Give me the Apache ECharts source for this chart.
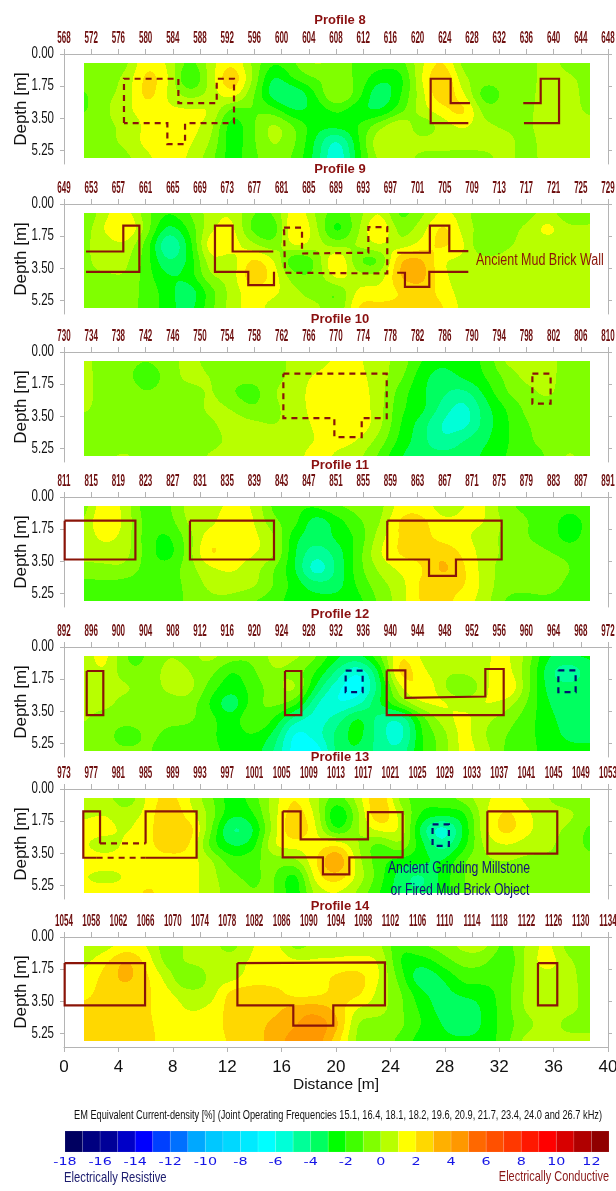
<!DOCTYPE html>
<html><head><meta charset="utf-8">
<style>html,body{margin:0;padding:0;background:#fff}#c{width:616px;height:1191px}</style>
<script src="https://cdn.jsdelivr.net/npm/echarts@6/dist/echarts.min.js"></script>
</head><body><div id="c"></div>
<script>
const NARROW = '"Liberation Sans Narrow","Liberation Sans",sans-serif';
const SANS = '"Liberation Sans",sans-serif';
const profileNames = ['Profile 8','Profile 9','Profile 10','Profile 11','Profile 12','Profile 13','Profile 14'];
const stationStarts = [568,649,730,811,892,973,1054];
const depthTickValues = [0,1.75,3.5,5.25];
const distNodes = [1.47,3.02,4.57,6.12,7.67,9.22,10.77,12.32,13.87,15.42,16.97,18.52,20.07,21.62,23.17,24.72,26.27,27.82,29.37,30.92,32.47,34.02,35.57,37.12,38.67];
const depthNodes = [0.49,1.35,2.21,3.07,3.93,4.79,5.65];
const scaleValues = [-18,-17,-16,-15,-14,-13,-12,-11,-10,-9,-8,-7,-6,-5,-4,-3,-2,-1,0,1,2,3,4,5,6,7,8,9,10,11,12];
const scaleLabels = [-18,-16,-14,-12,-10,-8,-6,-4,-2,0,2,4,6,8,10,12];
const palette = ['#000060','#000080','#000098','#0000c8','#0000ff','#0040ff','#0070ff','#00a8ff','#00c8ff','#00d8ff','#00eaff','#00ffff','#00ffd8','#00ff98','#00ff60','#00ff00','#40ff00','#80ff00','#b8ff00','#ffff00','#ffd800','#ffb000','#ff9800','#ff6800','#ff5000','#ff3800','#ff1800','#ff0000','#d80000','#b00000','#900000'];

const p8 = [
[-1,-1,-0.3,2,0.8,-1.5,0.5,2,-0.2,-2,-1,0.3,-0.5,-1.2,-1.5,-1.5,0.8,2.3,-0.5,-1,-1,-0.5,0.5,-0.5,-0.8],
[-0.6,-0.5,0.3,2.5,1.2,-2.6,0.5,3.2,0,-3.5,-1.8,-1,-0.5,-1.2,-2.8,-2.6,1,3.4,0.2,-0.6,-0.6,-0.5,0.5,0.3,-0.5],
[-1.2,-0.2,0.3,2.6,0.8,-0.5,0.3,1.8,-0.8,-3.8,-4.2,-2,0.5,-1.5,-4,-2.2,0.6,3,1.2,-1.8,-0.7,-0.5,0.7,0.5,-0.5],
[-1.2,-0.2,0.8,1.5,1.2,1.2,1.1,-1.5,-1,-1.5,-3.2,-2.7,-1.8,-2.8,-3.2,-1.5,0.6,1.6,2.6,-0.6,-0.5,-0.3,0.6,0.5,-0.3],
[-0.4,-0.2,0.2,1.3,1.5,1.4,0.5,-2.8,-1.2,0.5,-1,-2.6,-2.6,-2,-0.3,1.2,-1,0.4,1.2,0.3,-0.2,-0.2,0.5,0.5,0.5],
[-0.4,-0.3,0.3,1.4,1.6,1.2,0,-2.7,-1.2,0.3,-0.8,-3.2,-5.6,-2.2,1,0.5,0.4,0.5,0.5,0.5,0.4,-0.4,0.5,0.5,0.5],
[-0.4,-0.7,-0.3,0.8,1.5,0.9,-0.6,-2.6,-1.3,-0.3,-1.2,-3.4,-6.2,-2.5,0.4,0.5,-0.3,-0.4,-0.4,-0.4,0.4,-0.5,0.5,0.5,0.5]];
const p9 = [
[-1.2,0.8,1.5,-0.8,-2,-1,0.5,1,-1,-1,2,-0.2,-1.5,-0.5,1.2,-1.5,-0.3,1.2,0.5,-1,-1,-0.6,0.5,-1,-1],
[-0.6,1.2,2.4,-0.5,-3.6,-1.8,0.8,1.5,-1.5,-2,2.6,0.3,-2.8,-0.2,2.4,-0.6,0.5,2.5,0.6,-0.5,-0.5,0.3,1.5,0.3,0.4],
[-0.2,0.5,0.8,-1.5,-5.5,-2.6,2,1.6,0.2,-0.8,1.5,0.5,-0.5,0.2,1.2,0.2,1.3,2.4,1.2,-1.4,-0.2,0.3,0.5,0.4,0.4],
[-0.3,0.6,0.3,-1.6,-4.2,-2.8,0.8,0.4,2.4,1.2,-2.4,-1,2.6,-1.2,-1.5,3.2,3.4,1,0.8,0.4,0.4,0.4,0.5,0.5,0.5],
[-0.2,-0.2,0,-1.6,-3,-2.6,0,0.4,3,1.6,-0.8,-0.8,1.6,0.4,0.2,3.2,3.6,1.2,0.5,0.5,0.5,0.5,0.5,0.5,0.5],
[-0.4,-0.3,-0.6,-1.3,-2.6,-3.8,-1.5,0.4,1.6,1.3,0.3,-0.7,-1.2,1.3,1.4,2,2.6,1.6,0.5,0.5,0.5,0.5,0.5,0.5,0.5],
[-0.5,-0.6,-0.8,-1.2,-2.6,-3.5,-1.3,0.5,1.5,0.5,0.4,0.5,-1.2,2.3,2.3,2.2,2.4,2.2,0.6,0.5,0.5,0.5,0.5,0.5,0.5]];
const p10 = [
[0.5,-0.8,-0.8,-1,-0.6,0.5,-0.6,-0.6,-0.6,-0.6,0.4,0.5,1.2,1.2,0.3,-0.3,-2,-2.8,-2,-2,0.3,0.5,0.5,-0.6,-0.7],
[0.5,-0.7,-0.8,-1.5,-0.7,0.5,0,-0.6,-0.6,-0.4,0.4,1.2,1.5,1.3,0.5,-0.7,-2.6,-3.6,-2.8,-2,-0.8,0.4,0.4,-0.6,-0.7],
[0.5,-0.6,-0.6,-1,-0.6,-0.6,0.2,-1,-1.6,0,0.5,1.5,1.6,1.5,0.5,-1.5,-2.8,-3.8,-4.4,-2.8,-1,-0.4,0.3,-0.7,-0.8],
[0.3,-0.6,-0.6,-0.6,-0.6,-0.6,0.3,0,-1,-0.2,0.4,1.5,1.6,1.6,0.5,-1.8,-2.6,-4.4,-5.6,-3.5,-2,-0.7,-0.5,-0.7,-0.7],
[-0.6,-0.6,-0.6,-0.6,-0.6,-0.6,-0.2,0.5,0.3,-0.1,0.4,1.2,2,1.9,0.4,-2,-3.5,-5.2,-5.6,-3.6,-2.2,-1,-0.8,-0.8,-0.8],
[-0.7,-0.5,-0.6,-0.6,-0.6,-0.6,-0.5,0.3,0.5,0.5,0.5,1,1.5,1,-0.3,-2.3,-3.6,-5,-4,-3.2,-2.2,-1.1,-0.8,-0.6,-0.6],
[-0.5,-0.2,0.2,-0.6,-0.6,-0.6,0.2,0.4,0.5,0.5,0.6,1.5,0.8,0.3,-1.2,-3,-3.6,-3.6,-3.5,-2.8,-2,-1.2,-1,0.3,-0.6]];
const p11 = [
[-0.6,2,0.5,-1.8,-1.2,0.5,0.6,1.2,1,-1.4,-1.8,-1.8,-1,-0.6,-0.5,1.5,1.6,0.4,1,1.2,-0.8,-1.2,-1,-1.5,-1.2],
[0,2.4,0.6,-1.5,-1.5,0.3,0.6,1.9,1.2,-0.8,-1.6,-3.8,-2.5,-1.2,-0.2,2.3,2.4,1.2,1.2,1.1,-0.3,-1,-1.2,-2.8,-1.5],
[0.3,1.4,0.5,-1.6,-2.3,-0.4,1.8,1.3,1.3,0.3,-2.8,-3.6,-2.8,-1.8,0.5,2.2,2.4,1.6,1.2,0.5,-0.3,-1,-1.3,-2.6,-1.4],
[0.4,0.4,0.4,-1.5,-2.6,-0.4,2.4,1.3,1.2,0.3,-3,-4.8,-3.6,-1.5,1,2.2,2.4,2.9,1.8,0.5,-0.2,-0.7,-0.9,-1.2,-1.2],
[-0.4,-0.2,-0.2,-1.5,-1.6,-0.4,0.8,1.2,0.5,-1,-2.9,-6,-3.8,-1.4,0.2,1.2,1.8,3.4,2.2,0.5,-0.5,-0.7,-0.5,-1,-1],
[-1.4,-1.3,-1.5,-1.6,-1.5,-0.7,0.3,0.5,0.3,-1,-2.4,-3.6,-3.5,-1.8,-0.4,0.5,2.3,2.4,2.2,0.6,-0.6,-0.8,-0.6,-1.2,-1.2],
[-1.4,-1.4,-1.6,-1.5,-1.5,-0.8,-0.2,-0.3,-1,-1.5,-2.6,-2.6,-2.6,-2.4,-0.8,0.5,2.2,2.4,1.5,0.5,-1.2,-1.2,-1.2,-1.4,-1.4]];
const p12 = [
[0.5,1.5,-1.2,-1,0,-0.3,0.4,-0.5,-0.8,0.4,0.3,-0.8,-2.8,-3.2,-1.2,2.2,0.8,0.3,0.4,0.8,1.3,-0.2,-3,-3,-2.8],
[0.5,1,-0.8,-0.8,0.5,0,-0.6,-2.2,-1.2,0,-0.5,-2,-4.2,-6.2,-3,2.8,1.3,0.2,0.2,0.8,1.6,-0.6,-3.6,-5,-3.4],
[0.4,0.3,0.3,-0.6,0.3,0.5,-1.5,-2.7,-1.6,-0.5,0.6,-3.2,-5.8,-7,-3.6,1,2.3,0.2,-1.4,0.6,2.5,-0.5,-3.4,-3.6,-3.4],
[0.2,0.4,-0.5,-0.7,-0.5,-0.4,-2.2,-3.9,-1.5,-0.6,-1.4,-5,-6.2,-5.4,-3,-0.8,1,1.3,0.5,1.2,0.6,-1,-3,-3.5,-3.4],
[0.2,-0.6,-0.6,-0.7,-0.8,-0.8,-1.6,-2.8,-0.6,-2,-4.6,-5.6,-4.5,-2.5,-4.5,-5.2,-1.6,0.5,1.4,0.3,-0.5,-1.5,-2.7,-3.4,-3.4],
[-0.6,-0.6,-1.6,-0.8,-1.2,-1.4,-1.8,-2.5,-2,-3.2,-6.5,-5.5,-3.6,-2.5,-4.5,-5.8,-2,-0.5,1.5,0,-1,-1.6,-2.6,-3.2,-3.2],
[-0.8,-0.8,-0.8,-0.9,-1.4,-1.5,-1.8,-2.2,-2.4,-4,-6.6,-6.9,-3.6,-3,-4.5,-4.8,-2,-0.6,1.5,0.5,-1.2,-1.5,-2.5,-2.8,-2.8]];
const p13 = [
[0,0.5,-1,1.2,2.5,1,-0.8,-2.6,-1.5,0.5,2.2,0.2,-1.5,0.5,3.2,-0.5,-1.6,-1.4,-0.5,0.8,1.3,0.8,0,-0.7,-0.7],
[0.8,1,0.4,1.3,3.2,1.4,-0.3,-2.8,-2.2,0.6,2.8,0.8,-3.5,-0.2,3.3,0.6,-2.2,-2.5,-2.4,0.8,2.4,1.2,0.4,0.3,-0.5],
[1.3,1.4,0.8,1.8,2.6,2.8,-0.8,-4.5,-3.4,0.5,3.2,1.2,-2.5,0,1.4,1.2,-3.6,-6,-3,0.8,2.6,1.3,0.4,-0.2,-1.3],
[1.1,0.4,1.2,1.8,2.4,2.2,-1.5,-3.2,-2.6,1.2,1.4,1.4,2.2,0,-1.6,0,-2.6,-4.8,-2.5,0.3,1,0.5,0.3,-0.6,-1.2],
[1.5,1.5,1.5,1.7,1.7,1.5,0.3,-1.6,-1.2,-0.6,-0.4,2,4.6,0.3,-1.6,-2.5,-2.7,-3,-1,-0.2,0,-0.3,-0.3,-0.4,-0.8],
[1,0.6,1,1.8,1.7,1.5,0.4,-0.8,-1.2,-0.8,-2.8,1.6,2.8,0.7,-1.5,-3.6,-4.4,-2.6,-1,-0.5,-0.5,-0.5,-0.5,-0.5,-0.5],
[1.4,1.5,1.5,2.2,1.6,1.4,0.5,-0.5,-1,-0.8,-2.8,0.4,1,-0.2,-2,-3.5,-4,-2.7,-1,-0.4,-0.4,-0.4,-0.4,-0.4,-0.4]];
const p14 = [
[0.3,0.5,1.4,1,-0.8,0.4,0.4,-0.5,1,1.5,-0.5,0.3,0.5,0.5,0.3,-2,-1,-0.6,0.4,0.4,-1.5,0.2,1.4,-0.6,-0.7],
[0.7,1.8,3.4,1.6,-0.6,0.3,0.4,0.5,1.2,2,1.2,1.2,1.2,1.4,1.1,-2.2,-2.7,-1.5,-0.6,-0.8,-2,0.3,1.6,0.2,-0.6],
[1.2,2.4,3.4,2.2,0.5,-1.6,0.4,0.5,1.5,1.5,2,1.5,2.3,2.5,1.1,-1.5,-4,-3,-1.6,-1.6,-1.6,0.3,0.6,0.4,-0.6],
[1.6,2.5,2.5,2.2,1.2,0.4,0.4,2.5,2.6,2.4,1.5,1.6,2.3,2.4,0.6,-0.8,-2.8,-3.5,-2.6,-2.5,-1.4,0.3,0.5,0.4,-0.5],
[2.4,2.5,2.5,2.1,1.5,0.9,1.2,2.5,2.6,2.7,3.5,3.7,2.7,0.8,0.5,-0.8,-2.2,-3.5,-4.2,-2.7,-1.5,0.3,0.5,0.4,-0.5],
[2.5,2.5,2.5,2.2,1.5,1.3,1.5,2.4,2.7,3.2,3.9,4.8,3.4,-0.3,-0.5,-0.7,-2,-3,-4,-2.8,-1.5,-0.4,0.5,-0.5,-0.5],
[2.5,2.5,2.5,2.4,1.4,1.4,1.4,2.2,2.6,3.4,4.6,4.7,2.4,-0.4,-0.6,-1.2,-2.6,-2.7,-2.7,-2.6,-1.4,0.5,0.5,0.5,0.5]];
const grids = [p8,p9,p10,p11,p12,p13,p14];

const RED='#8a1408', NAVY='#00106e';
const walls8 = [
 {k:'d',c:RED,p:[[4.41,3.77],[4.41,1.35],[8.41,1.35],[8.41,2.68],[11.23,2.68],[11.23,1.35],[12.5,1.35],[12.5,3.77],[8.9,3.77],[8.9,4.92],[7.6,4.92],[7.6,3.77],[4.41,3.77]]},
 {k:'s',c:RED,p:[[29.85,2.68],[28.43,2.68],[28.43,1.35],[26.96,1.35],[26.96,3.77],[29.73,3.77]]},
 {k:'s',c:RED,p:[[33.77,2.68],[35.05,2.68],[35.05,1.35],[36.4,1.35],[36.4,3.77],[33.82,3.77]]}];
const walls9 = [
 {k:'s',c:RED,p:[[1.62,2.59],[4.36,2.59],[4.36,1.18],[5.54,1.18],[5.54,3.7],[1.62,3.7]]},
 {k:'s',c:RED,p:[[15.39,2.59],[12.4,2.59],[12.4,1.18],[11.1,1.18],[11.1,3.7],[13.55,3.7],[13.55,4.43],[15.44,4.43],[15.44,3.7]]},
 {k:'d',c:RED,p:[[16.18,1.29],[17.5,1.29],[17.5,2.7],[22.38,2.66],[22.38,1.26],[23.77,1.26],[23.77,3.79],[16.25,3.75],[16.18,1.29]]},
 {k:'s',c:RED,p:[[24.5,2.66],[26.9,2.66],[26.9,1.18],[28.33,1.18],[28.33,2.57],[29.73,2.57]]},
 {k:'s',c:RED,p:[[24.5,3.75],[25.07,3.75],[25.07,4.52],[26.86,4.52],[26.86,3.7],[29.73,3.7]]}];
const walls10 = [
 {k:'d',c:RED,p:[[16.13,1.18],[23.73,1.18],[23.73,3.61],[21.89,3.61],[21.89,4.64],[19.88,4.64],[19.88,3.61],[16.13,3.61],[16.13,1.18]]},
 {k:'d',c:RED,p:[[34.44,1.18],[35.78,1.18],[35.78,2.82],[34.44,2.82],[34.44,1.18]]}];
const walls11 = [
 {k:'s',c:RED,p:[[0.05,1.29],[5.25,1.29],[5.25,3.41],[0.05,3.41],[0.05,1.29]]},
 {k:'s',c:RED,p:[[9.26,1.29],[15.44,1.29],[15.44,3.41],[9.26,3.41],[9.26,1.29]]},
 {k:'s',c:RED,p:[[23.77,1.29],[32.18,1.29],[32.18,3.41],[28.82,3.41],[28.82,4.3],[26.84,4.3],[26.84,3.41],[23.77,3.41],[23.77,1.29]]}];
const walls12 = [
 {k:'s',c:RED,p:[[1.67,1.31],[2.89,1.31],[2.89,3.72],[1.67,3.72],[1.67,1.31]]},
 {k:'s',c:RED,p:[[16.25,1.31],[17.45,1.31],[17.45,3.72],[16.25,3.72],[16.25,1.31]]},
 {k:'d',c:NAVY,p:[[20.71,1.29],[21.96,1.29],[21.96,2.46],[20.71,2.46],[20.71,1.29]]},
 {k:'s',c:RED,p:[[23.73,1.28],[25.1,1.28],[25.1,2.77],[30.98,2.7],[30.98,1.2],[32.33,1.2],[32.33,3.72],[23.73,3.72],[23.73,1.28]]},
 {k:'d',c:NAVY,p:[[36.35,1.28],[37.62,1.28],[37.62,2.46],[36.35,2.46],[36.35,1.28]]}];
const walls13 = [
 {k:'s',c:RED,p:[[2.65,2.97],[2.65,1.22],[1.42,1.22],[1.42,3.75],[2.4,3.75]]},
 {k:'d',c:RED,p:[[2.65,2.97],[6,2.97]]},
 {k:'d',c:RED,p:[[2.4,3.75],[6,3.75]]},
 {k:'s',c:RED,p:[[6,2.97],[6,1.22],[9.75,1.22],[9.75,3.75],[6,3.75]]},
 {k:'s',c:RED,p:[[16.08,1.22],[17.4,1.22],[17.4,2.75],[22.35,2.75],[22.35,1.26],[24.9,1.26],[24.9,3.73],[20.98,3.73],[20.98,4.66],[19.04,4.66],[19.04,3.73],[16.08,3.73],[16.08,1.22]]},
 {k:'d',c:NAVY,p:[[27.1,1.93],[28.3,1.93],[28.3,3.1],[27.1,3.1],[27.1,1.93]]},
 {k:'s',c:RED,p:[[31.13,1.22],[36.27,1.22],[36.27,3.52],[31.13,3.52],[31.13,1.22]]}];
const walls14 = [
 {k:'s',c:RED,p:[[0.05,1.42],[5.96,1.42],[5.96,3.73],[0.05,3.73],[0.05,1.42]]},
 {k:'s',c:RED,p:[[12.75,1.42],[23.6,1.38],[23.6,3.73],[19.8,3.73],[19.8,4.83],[16.86,4.83],[16.86,3.73],[12.75,3.73],[12.75,1.42]]},
 {k:'s',c:RED,p:[[34.85,1.42],[36.27,1.42],[36.27,3.73],[34.85,3.73],[34.85,1.42]]}];
const wallSets = [walls8,walls9,walls10,walls11,walls12,walls13,walls14];

const tops = [54,204,352,497,647,789,937];
const titleYs = [19,168,318,464,613,756,905];
const PLOT_H = 110, LEFT = 64, PLOT_W = 544;
const GRAY = '#b4b4b4';

function binColor(v){ return palette[Math.max(0,Math.min(30,Math.floor(v+18)))]; }
// contour surface through the read grid: half Catmull-Rom, half cubic B-spline
function kernel(a,b,c,d,t){
  const t2=t*t,t3=t2*t;
  const crv=b+0.5*t*(c-a+t*(2*a-5*b+4*c-d+t*(3*(b-c)+d-a)));
  const bs=((1-t)*(1-t)*(1-t)*a+(3*t3-6*t2+4)*b+(-3*t3+3*t2+3*t+1)*c+t3*d)/6;
  return 0.5*crv+0.5*bs;
}
function sampleGrid(g,dist,dep){
  const nc=distNodes.length,nr=depthNodes.length;
  const u=Math.max(0,Math.min(nc-1.0001,(dist-distNodes[0])/(distNodes[1]-distNodes[0])));
  const w=Math.max(0,Math.min(nr-1.0001,(dep-depthNodes[0])/(depthNodes[1]-depthNodes[0])));
  const i=Math.floor(u),j=Math.floor(w),tu=u-i,tw=w-j;
  const row=r=>{const R=g[Math.max(0,Math.min(nr-1,r))];
    return kernel(R[Math.max(0,i-1)],R[i],R[i+1],R[Math.min(nc-1,i+2)],tu);};
  return kernel(row(j-1),row(j),row(j+1),row(j+2),tw);
}
function fieldSeries(pi){
  const g=grids[pi],data=[];
  g.forEach((R,j)=>R.forEach((v,i)=>data.push([distNodes[i],depthNodes[j],v,i,j])));
  return {type:'custom',name:profileNames[pi],xAxisIndex:pi*2+1,yAxisIndex:pi*2,silent:true,z:1,progressive:0,animation:false,
    clip:false,data,dimensions:['x','y','v','i','j'],
    renderItem(params,api){
      const i=api.value(3),j=api.value(4),nc=distNodes.length,nr=depthNodes.length;
      const x0=i?(distNodes[i-1]+distNodes[i])/2:distNodes[0], x1=i<nc-1?(distNodes[i]+distNodes[i+1])/2:distNodes[nc-1];
      const y0=j?(depthNodes[j-1]+depthNodes[j])/2:depthNodes[0], y1=j<nr-1?(depthNodes[j]+depthNodes[j+1])/2:depthNodes[nr-1];
      const a=api.coord([x0,y0]),b=api.coord([x1,y1]);
      const px0=Math.round(a[0]),px1=Math.round(b[0]),py0=Math.round(a[1]),py1=Math.round(b[1]);
      const children=[];
      for(let py=py0;py<py1;py++){
        const dep=y0+(py+0.5-a[1])/(b[1]-a[1])*(y1-y0);
        let start=px0,cur=null;
        for(let px=px0;px<=px1;px++){
          let col=null;
          if(px<px1){ col=binColor(sampleGrid(g,x0+(px+0.5-a[0])/(b[0]-a[0])*(x1-x0),dep)); }
          if(col!==cur){
            if(cur!==null) children.push({type:'rect',silent:true,shape:{x:start,y:py,width:px-start,height:1},style:{fill:cur}});
            cur=col;start=px;
          }
        }
      }
      return {type:'group',children};
    }};
}
function wallSeries(pi){
  return wallSets[pi].map(w=>({type:'line',xAxisIndex:pi*2+1,yAxisIndex:pi*2,data:w.p,showSymbol:false,symbol:'none',silent:true,z:5,clip:false,animation:false,
    lineStyle:{color:w.c,width:2.2,type:w.k==='d'?[6,5]:'solid',cap:'butt',join:'miter'}}));
}
function textSeries(xi,yi,points,labels,opt){
  return {type:'custom',xAxisIndex:xi,yAxisIndex:yi,silent:true,z:6,clip:false,animation:false,data:points,
    renderItem(params,api){
      const c=api.coord([api.value(0),api.value(1)]);
      return {type:'text',silent:true,x:c[0]+(opt.dx||0),y:c[1]+(opt.dy||0),scaleX:opt.sx||1,scaleY:opt.sy||1,
        style:{text:String(labels[params.dataIndex]),x:0,y:0,fill:opt.color,font:opt.font,align:opt.align||'center',verticalAlign:'middle'}};
    }};
}

const grid=[],xAxis=[],yAxis=[],series=[],title=[];
tops.forEach((top,pi)=>{
  grid.push({left:LEFT,top,width:PLOT_W,height:PLOT_H,outerBoundsMode:'none',containLabel:false});
  const s0=stationStarts[pi];
  xAxis.push({type:'value',gridIndex:pi,position:'top',min:s0,max:s0+80,interval:4,
    axisLine:{show:true,onZero:false,lineStyle:{color:GRAY,width:1}},
    axisTick:{show:true,length:5,lineStyle:{color:GRAY}},axisLabel:{show:false},splitLine:{show:false}});
  const last=pi===6;
  xAxis.push({type:'value',gridIndex:pi,position:'bottom',min:0,max:40,interval:4,show:last,
    name:last?'Distance [m]':'',nameLocation:'middle',nameGap:30,
    nameTextStyle:{fontFamily:SANS,fontSize:15.5,color:'#111'},
    axisLine:{show:true,onZero:false,lineStyle:{color:GRAY}},axisTick:{show:true,length:5,lineStyle:{color:GRAY}},
    axisLabel:{show:true,fontFamily:NARROW,fontSize:17,color:'#111',margin:12},splitLine:{show:false}});
  yAxis.push({type:'value',gridIndex:pi,position:'left',inverse:true,min:0,max:6,
    name:'Depth [m]',nameLocation:'middle',nameRotate:90,nameGap:34,
    nameTextStyle:{fontFamily:SANS,fontSize:17,color:'#111'},
    axisLine:{show:true,onZero:false,lineStyle:{color:GRAY}},
    axisTick:{show:true,length:4,customValues:depthTickValues,lineStyle:{color:GRAY}},axisLabel:{show:false},splitLine:{show:false}});
  yAxis.push({type:'value',gridIndex:pi,position:'right',inverse:true,min:0,max:6,
    axisLine:{show:true,onZero:false,lineStyle:{color:GRAY}},
    axisTick:{show:true,length:4,customValues:depthTickValues,lineStyle:{color:GRAY}},axisLabel:{show:false},splitLine:{show:false}});
  title.push({text:profileNames[pi],left:335,top:titleYs[pi]-10,textAlign:'center',textStyle:{fontFamily:SANS,fontSize:13,fontWeight:'bold',color:'#8a1010'}});
  series.push(fieldSeries(pi));
  series.push(...wallSeries(pi));
  const st=[];for(let k=0;k<=80;k+=4)st.push(s0+k);
  series.push(textSeries(pi*2,pi*2,st.map(s=>[s,0]),st,{dy:-15,sx:0.5,font:'bold 16px '+NARROW,color:'#6e0f0f'}));
  series.push(textSeries(pi*2+1,pi*2,depthTickValues.map(d=>[0,d]),depthTickValues.map(d=>d.toFixed(2)),{dx:-10,sx:0.72,align:'right',font:'16px '+NARROW,color:'#111'}));
});

// colour scale
grid.push({left:65,top:1131,width:544,height:21,outerBoundsMode:'none'});
xAxis.push({type:'value',gridIndex:7,min:-18,max:13,interval:2,axisLine:{show:false},axisTick:{show:false},axisLabel:{show:false},splitLine:{show:false}});
yAxis.push({type:'value',gridIndex:7,min:0,max:1,show:false});
series.push({type:'custom',xAxisIndex:14,yAxisIndex:14,silent:true,animation:false,data:scaleValues.map(v=>[v]),
  renderItem(params,api){
    const v=api.value(0),a=api.coord([v,1]),b=api.coord([v+1,0]);
    return {type:'rect',shape:{x:a[0],y:a[1],width:b[0]-a[0],height:b[1]-a[1]},style:{fill:palette[params.dataIndex],stroke:'rgba(255,255,255,0.18)',lineWidth:0.6}};
  }});
series.push(textSeries(14,14,scaleLabels.map(v=>[v,0]),scaleLabels,{dy:10,sx:1.3,font:'11px "DejaVu Sans",sans-serif',color:'#1414e6'}));

const txt=(t,x,y,font,fill,sx,align)=>({type:'text',x,y,scaleX:sx,silent:true,z:20,style:{text:t,x:0,y:0,font,fill,align:align||'center',verticalAlign:'middle'}});
const graphic=[
 txt('Ancient Mud Brick Wall',476,261,'16px '+NARROW,'#8a1408',0.78,'left'),
 txt('Ancient Grinding Millstone',459,868,'17px '+NARROW,'#10107a',0.72),
 txt('or Fired Mud Brick Object',460,890,'17px '+NARROW,'#10107a',0.72),
 txt('EM Equivalent Current-density [%] (Joint Operating Frequencies 15.1, 16.4, 18.1, 18.2, 19.6, 20.9, 21.7, 23.4, 24.0 and 26.7 kHz)',338,1115,'13px '+NARROW,'#111',0.71),
 txt('Electrically Resistive',64,1178,'15px '+NARROW,'#1c1c6e',0.75,'left'),
 txt('Electrically Conductive',609,1177,'15px '+NARROW,'#8a1818',0.73,'right')
];

const chart=echarts.init(document.getElementById('c'),null,{renderer:'canvas'});
chart.setOption({animation:false,backgroundColor:'#fff',title,grid,xAxis,yAxis,series,graphic});
</script></body></html>
